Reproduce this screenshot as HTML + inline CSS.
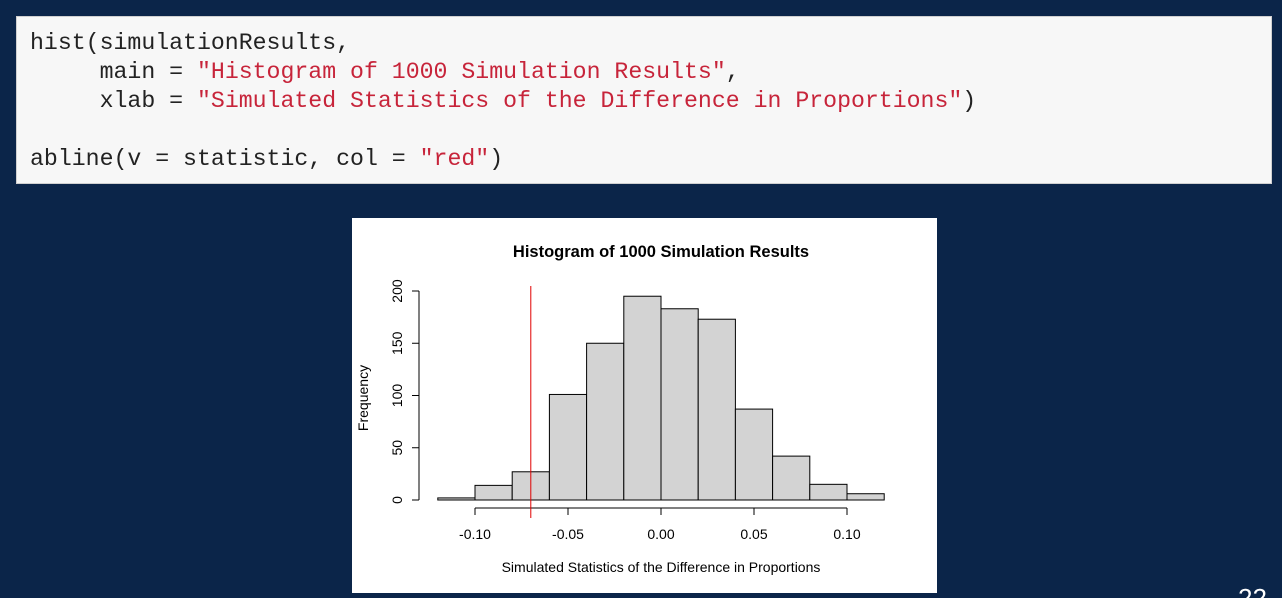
<!DOCTYPE html>
<html><head><meta charset="utf-8"><style>
html,body{margin:0;width:1282px;height:598px;overflow:hidden}
body{background:#0b2549;position:relative;font-family:"Liberation Sans",sans-serif}
#code{position:absolute;left:16px;top:16px;width:1256px;height:168px;background:#f7f7f7;border:1px solid #d0d0d0;box-sizing:border-box}
#code pre{margin:0;position:absolute;left:13px;top:12px;font-family:"Liberation Mono",monospace;font-size:23.2px;line-height:29px;color:#222}
.s{color:#c7243a}
#panel{position:absolute;left:352px;top:218px;width:585px;height:375px;background:#fff}
#pg{position:absolute;left:1238px;top:585px;color:#fff;font-size:26px;line-height:26px}
</style></head><body>
<div id="code"><pre>hist(simulationResults,
     main = <span class="s">"Histogram of 1000 Simulation Results"</span>,
     xlab = <span class="s">"Simulated Statistics of the Difference in Proportions"</span>)

abline(v = statistic, col = <span class="s">"red"</span>)</pre></div>
<div id="panel">
<svg id="svg" width="585" height="375" font-family="Liberation Sans, sans-serif"></svg>
</div>
<div id="pg">22</div>
<script>
const breaks=[-0.12,-0.10,-0.08,-0.06,-0.04,-0.02,0,0.02,0.04,0.06,0.08,0.10,0.12];
const counts=[2,14,27,101,150,195,183,173,87,42,15,6];
const xTicks=[-0.10,-0.05,0.00,0.05,0.10];
const xTickLabels=["-0.10","-0.05","0.00","0.05","0.10"];
const yTicks=[0,50,100,150,200];
const statistic=-0.07;
const ox=352,oy=218;
function X(v){return 661+v*1860-ox;}
function Y(v){return 500-v*1.045-oy;}
const svg=document.getElementById('svg');
const NS='http://www.w3.org/2000/svg';
function el(t,a){const e=document.createElementNS(NS,t);for(const k in a)e.setAttribute(k,a[k]);svg.appendChild(e);return e;}
let t=el('text',{x:309,y:39,'text-anchor':'middle','font-size':16.5,'font-weight':'bold'});t.textContent='Histogram of 1000 Simulation Results';


for(let i=0;i<counts.length;i++){
 const r=el('rect',{x:X(breaks[i]),y:Y(counts[i]),width:X(breaks[i+1])-X(breaks[i]),height:Y(0)-Y(counts[i]),fill:'#d3d3d3',stroke:'#000','stroke-width':1});
 
 
}
const ax=el('line',{x1:X(xTicks[0]),x2:X(xTicks[xTicks.length-1]),y1:Y(0)+8,y2:Y(0)+8,stroke:'#000'});


xTicks.forEach((v,i)=>{
 el('line',{x1:X(v),x2:X(v),y1:Y(0)+8,y2:Y(0)+15,stroke:'#000'});
 const l=el('text',{x:X(v),y:Y(0)+39,'text-anchor':'middle','font-size':14});l.textContent=xTickLabels[i];
 
 
});
const ay=el('line',{x1:67,x2:67,y1:Y(0),y2:Y(200),stroke:'#000'});


yTicks.forEach(v=>{
 el('line',{x1:60,x2:67,y1:Y(v),y2:Y(v),stroke:'#000'});
 const l=el('text',{x:50,y:Y(v),'text-anchor':'middle','font-size':14,transform:`rotate(-90 50 ${Y(v)})`});l.textContent=v;
 
 
});
t=el('text',{x:16,y:180,'text-anchor':'middle','font-size':14,transform:'rotate(-90 16 180)'});t.textContent='Frequency';


t=el('text',{x:309,y:354,'text-anchor':'middle','font-size':14});t.textContent='Simulated Statistics of the Difference in Proportions';


const rl=el('line',{x1:X(statistic),x2:X(statistic),y1:68,y2:300,stroke:'#e00000','stroke-width':1});


</script>
</body></html>
